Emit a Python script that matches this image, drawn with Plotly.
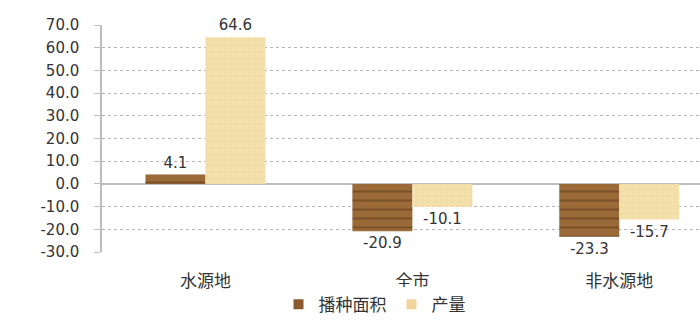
import plotly.graph_objects as go

categories = ["水源地", "全市", "非水源地"]
area_vals = [4.1, -20.9, -23.3]
output_vals = [64.6, -10.1, -15.7]
area_labels = ["4.1", "-20.9", "-23.3"]
output_labels = ["64.6", "-10.1", "-15.7"]
y_ticks = [-30, -20, -10, 0, 10, 20, 30, 40, 50, 60, 70]
y_ticktext = ["-30.0", "-20.0", "-10.0", "0.0", "10.0", "20.0", "30.0", "40.0", "50.0", "60.0", "70.0"]

font_family = "DejaVu Sans, Verdana, Noto Sans CJK SC"
dark = "#8E5F30"
light = "#F2DCA2"

fig = go.Figure()
fig.add_trace(go.Bar(
    x=categories, y=area_vals, name="播种面积", showlegend=False,
    text=area_labels, textposition="outside", cliponaxis=False,
    textfont=dict(size=15, color="#333333"),
    marker=dict(color=dark, line=dict(width=0),
                pattern=dict(shape="-", fgcolor="#5E3A18", bgcolor="#9A6A38",
                             size=9, solidity=0.25)),
))
fig.add_trace(go.Bar(
    x=categories, y=output_vals, name="产量", showlegend=False,
    text=output_labels, textposition="outside", cliponaxis=False,
    textfont=dict(size=15, color="#333333"),
    marker=dict(color=light, line=dict(width=0),
                pattern=dict(shape="+", fgcolor="#E6CB88", bgcolor="#F4E0AC",
                             size=6, solidity=0.15)),
))
# legend entries with small square symbols
fig.add_trace(go.Scatter(x=[None], y=[None], mode="markers", name="播种面积",
                         marker=dict(symbol="square", size=10, color="#8A5A2E")))
fig.add_trace(go.Scatter(x=[None], y=[None], mode="markers", name="产量",
                         marker=dict(symbol="square", size=10, color="#F0D69A")))

fig.update_layout(
    width=700, height=326,
    margin=dict(l=102, r=0, t=25, b=74, autoexpand=False),
    paper_bgcolor="white", plot_bgcolor="white",
    barmode="group", bargap=0.42, bargroupgap=0,
    font=dict(family=font_family, size=14, color="#333333"),
    showlegend=True,
    legend=dict(orientation="h", xref="container", yref="container",
                x=0.535, xanchor="center", y=0.065, yanchor="middle",
                font=dict(size=17, color="#333333"), traceorder="normal",
                itemwidth=30, tracegroupgap=0),
)
fig.update_yaxes(
    range=[-30, 70], tickvals=y_ticks, ticktext=y_ticktext,
    showgrid=True, gridcolor="#B4B4B4", griddash="dot", gridwidth=1,
    zeroline=True, zerolinecolor="#BDBDBD", zerolinewidth=2,
    showline=True, linecolor="#BDBDBD", linewidth=1.5,
    ticks="outside", ticklen=6, tickcolor="#BDBDBD",
    ticklabelstandoff=12, automargin=False,
    tickfont=dict(size=15, color="#333333"),
)
fig.update_xaxes(
    range=[-0.5, 2.39], showgrid=False, zeroline=False, showline=False,
    ticks="outside", ticklen=14, tickcolor="rgba(0,0,0,0)", automargin=False,
    tickfont=dict(size=17, color="#333333"),
)

fig.write_html("out.html")
